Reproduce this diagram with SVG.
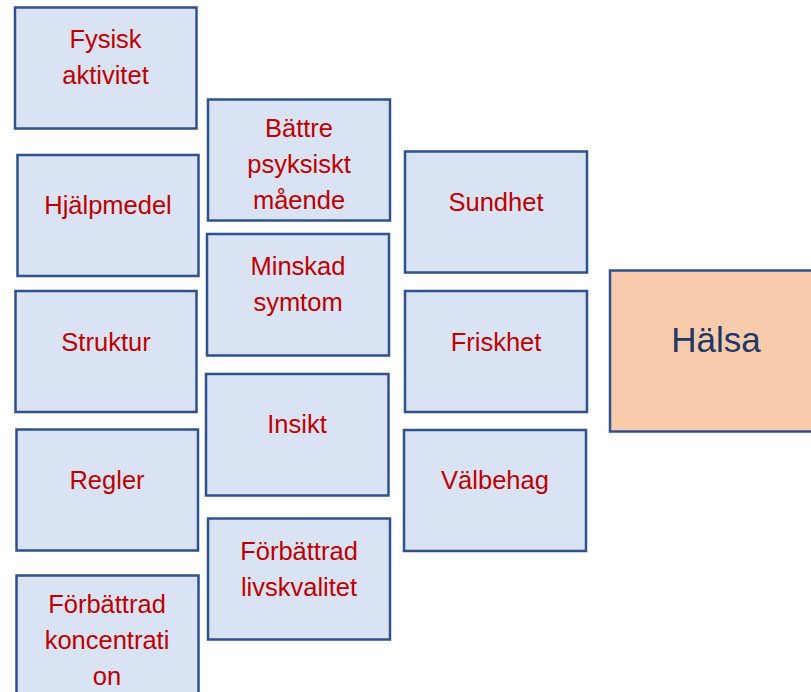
<svg xmlns="http://www.w3.org/2000/svg" width="811" height="692" viewBox="0 0 811 692">
  <style>
    .box { fill: #DAE3F3; stroke: #2F528F; stroke-width: 2.5; }
    .goal { fill: #F8CBAD; stroke: #2F528F; stroke-width: 2.5; }
    .lbl { font-family: "Liberation Sans", Arial, sans-serif; font-size: 25.5px; fill: #C00000; text-anchor: middle; }
    .goal-lbl { font-family: "Liberation Sans", Arial, sans-serif; font-size: 35px; fill: #203864; text-anchor: middle; }
  </style>
  <rect width="811" height="692" fill="#FFFFFF"/>

  <!-- left column -->
  <g id="fysisk-aktivitet">
    <rect class="box" x="15" y="7.5" width="181.5" height="121"/>
    <text class="lbl" x="105.5" y="48">Fysisk</text>
    <text class="lbl" x="105.5" y="84">aktivitet</text>
  </g>
  <g id="hjalpmedel">
    <rect class="box" x="17.5" y="155" width="181" height="121"/>
    <text class="lbl" x="108" y="214">Hjälpmedel</text>
  </g>
  <g id="struktur">
    <rect class="box" x="15.5" y="291" width="181" height="121"/>
    <text class="lbl" x="106" y="351">Struktur</text>
  </g>
  <g id="regler">
    <rect class="box" x="16.5" y="429.5" width="181.5" height="121"/>
    <text class="lbl" x="107" y="489">Regler</text>
  </g>
  <g id="forbattrad-koncentration">
    <rect class="box" x="16.5" y="575.5" width="182" height="130"/>
    <text class="lbl" x="107" y="613">Förbättrad</text>
    <text class="lbl" x="107" y="649">koncentrati</text>
    <text class="lbl" x="107" y="685">on</text>
  </g>

  <!-- middle column -->
  <g id="battre-psykiskt-maende">
    <rect class="box" x="208" y="99.5" width="182" height="121"/>
    <text class="lbl" x="299" y="137">Bättre</text>
    <text class="lbl" x="299" y="173">psyksiskt</text>
    <text class="lbl" x="299" y="209">mående</text>
  </g>
  <g id="minskad-symtom">
    <rect class="box" x="207" y="234" width="182" height="121.5"/>
    <text class="lbl" x="298" y="275">Minskad</text>
    <text class="lbl" x="298" y="311">symtom</text>
  </g>
  <g id="insikt">
    <rect class="box" x="206" y="374" width="182.5" height="121.5"/>
    <text class="lbl" x="297" y="433">Insikt</text>
  </g>
  <g id="forbattrad-livskvalitet">
    <rect class="box" x="208" y="518.5" width="182" height="121"/>
    <text class="lbl" x="299" y="560">Förbättrad</text>
    <text class="lbl" x="299" y="596">livskvalitet</text>
  </g>

  <!-- right column -->
  <g id="sundhet">
    <rect class="box" x="405" y="151.5" width="182" height="121"/>
    <text class="lbl" x="496" y="211">Sundhet</text>
  </g>
  <g id="friskhet">
    <rect class="box" x="405" y="291" width="182" height="121"/>
    <text class="lbl" x="496" y="351">Friskhet</text>
  </g>
  <g id="valbehag">
    <rect class="box" x="404" y="430" width="182" height="121"/>
    <text class="lbl" x="495" y="489">Välbehag</text>
  </g>

  <!-- outcome -->
  <g id="halsa">
    <rect class="goal" x="610" y="270.5" width="215" height="161"/>
    <text class="goal-lbl" x="716" y="352">Hälsa</text>
  </g>

  <g id="connectors"></g>
</svg>
